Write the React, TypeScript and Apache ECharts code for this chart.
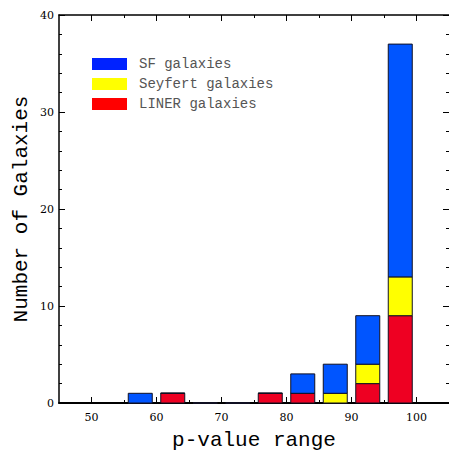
import React, { useEffect, useRef } from "react";
import * as echarts from "echarts";

const binStarts = [55, 60, 65, 70, 75, 80, 85, 90, 95];
const linerCounts = [0, 1, 0, 0, 1, 1, 0, 2, 9];
const seyfertCounts = [0, 0, 0, 0, 0, 0, 1, 2, 4];
const sfCounts = [1, 0, 0, 0, 0, 2, 3, 5, 24];
const binWidth = 5;
const seriesNames = ["SF galaxies", "Seyfert galaxies", "LINER galaxies"];
const xMajorTicks = [50, 60, 70, 80, 90, 100];
const xMinorTicks = [55, 65, 75, 85, 95];

const MONO = "'Liberation Mono', 'DejaVu Sans Mono', monospace";
const SERIF = "'DejaVu Serif', 'Liberation Serif', serif";

export default function App() {
  const ref = useRef<HTMLDivElement>(null);
  useEffect(() => {
    if (!ref.current) return;
    const chart = echarts.init(ref.current, undefined, { renderer: "svg" });

    // stacked: LINER bottom, Seyfert middle, SF top
    const layers = [linerCounts, seyfertCounts, sfCounts];
    const cum = binStarts.map(() => 0);
    const stacked = layers.map((arr) =>
      arr.map((v, i) => {
        const lo = cum[i];
        cum[i] += v;
        return [binStarts[i] + binWidth / 2, lo, cum[i]];
      })
    );

    const makeRender = (fill: string) => (params: any, api: any) => {
      const x = api.value(0);
      const lo = api.value(1);
      const hi = api.value(2);
      const p0 = api.coord([x, lo]);
      const p1 = api.coord([x, hi]);
      const w = 24;
      return {
        type: "rect",
        shape: { x: p0[0] - w / 2, y: p1[1], width: w, height: p0[1] - p1[1] },
        style: { fill, stroke: "#111122", lineWidth: 1 },
      };
    };

    const xBase = {
      type: "value" as const,
      min: 45,
      max: 105,
      splitLine: { show: false },
    };
    const yBase = {
      type: "value" as const,
      min: 0,
      max: 40,
      interval: 10,
      splitLine: { show: false },
    };
    const tickLine = { color: "#000", width: 1 };
    chart.setOption({
      animation: false,
      backgroundColor: "#ffffff",
      grid: {
        left: 59,
        right: 0,
        top: 15,
        bottom: 48,
        containLabel: false,
        outerBoundsMode: "none",
      },
      legend: {
        orient: "vertical",
        left: 92,
        top: 57,
        padding: 0,
        itemWidth: 35,
        itemHeight: 12,
        itemGap: 6,
        icon: "rect",
        textStyle: {
          fontFamily: MONO,
          fontSize: 14,
          color: "#555",
          padding: [0, 0, 0, 7],
        },
        data: [
          { name: seriesNames[0], itemStyle: { color: "#0022ff", borderWidth: 0 } },
          { name: seriesNames[1], itemStyle: { color: "#ffff00", borderWidth: 0 } },
          { name: seriesNames[2], itemStyle: { color: "#ff0000", borderWidth: 0 } },
        ],
      },
      xAxis: [
        {
          ...xBase,
          position: "bottom",
          name: "p-value range",
          nameLocation: "middle",
          nameGap: 27,
          nameMoveOverlap: false,
          nameTextStyle: { fontFamily: MONO, fontSize: 21, color: "#000" },
          axisLine: { show: true, onZero: false, lineStyle: { color: "#000", width: 2 } },
          axisTick: { show: true, inside: true, length: 6, customValues: xMajorTicks, lineStyle: tickLine },
          axisLabel: { fontFamily: SERIF, fontSize: 11, color: "#000", margin: 9, customValues: xMajorTicks },
        },
        {
          ...xBase,
          position: "bottom",
          axisLine: { show: false, onZero: false },
          axisTick: { show: true, inside: true, length: 3, customValues: xMinorTicks, lineStyle: tickLine },
          axisLabel: { show: false },
        },
        {
          ...xBase,
          position: "top",
          axisLine: { show: true, onZero: false, lineStyle: { color: "#000", width: 1.5 } },
          axisTick: { show: true, inside: true, length: 6, customValues: xMajorTicks, lineStyle: tickLine },
          axisLabel: { show: false },
        },
        {
          ...xBase,
          position: "top",
          axisLine: { show: false, onZero: false },
          axisTick: { show: true, inside: true, length: 3, customValues: xMinorTicks, lineStyle: tickLine },
          axisLabel: { show: false },
        },
      ],
      yAxis: [
        {
          ...yBase,
          position: "left",
          name: "Number of Galaxies",
          nameLocation: "middle",
          nameGap: 27,
          nameMoveOverlap: false,
          nameTextStyle: { fontFamily: MONO, fontSize: 21, color: "#000" },
          axisLine: { show: true, onZero: false, lineStyle: { color: "#000", width: 1.5 } },
          axisTick: { show: true, inside: true, length: 6, lineStyle: tickLine },
          minorTick: { show: true, splitNumber: 5, length: 3, lineStyle: tickLine },
          axisLabel: { fontFamily: SERIF, fontSize: 11, color: "#000", margin: 5 },
        },
        {
          ...yBase,
          position: "right",
          axisLine: { show: false, onZero: false },
          axisTick: { show: true, inside: true, length: 6, lineStyle: tickLine },
          minorTick: { show: true, splitNumber: 5, length: 3, lineStyle: tickLine },
          axisLabel: { show: false },
        },
      ],
      series: [
        {
          name: seriesNames[2],
          type: "custom",
          xAxisIndex: 0,
          yAxisIndex: 0,
          renderItem: makeRender("#ee0022"),
          itemStyle: { color: "#ee0022" },
          encode: { x: 0, y: 2 },
          data: stacked[0],
        },
        {
          name: seriesNames[1],
          type: "custom",
          xAxisIndex: 0,
          yAxisIndex: 0,
          renderItem: makeRender("#ffff00"),
          itemStyle: { color: "#ffff00" },
          encode: { x: 0, y: 2 },
          data: stacked[1],
        },
        {
          name: seriesNames[0],
          type: "custom",
          xAxisIndex: 0,
          yAxisIndex: 0,
          renderItem: makeRender("#0055ff"),
          itemStyle: { color: "#0055ff" },
          encode: { x: 0, y: 2 },
          data: stacked[2],
        },
      ],
    });
    return () => chart.dispose();
  }, []);
  return <div ref={ref} style={{ width: 449, height: 451, position: "absolute", left: 0, top: 0 }} />;
}
